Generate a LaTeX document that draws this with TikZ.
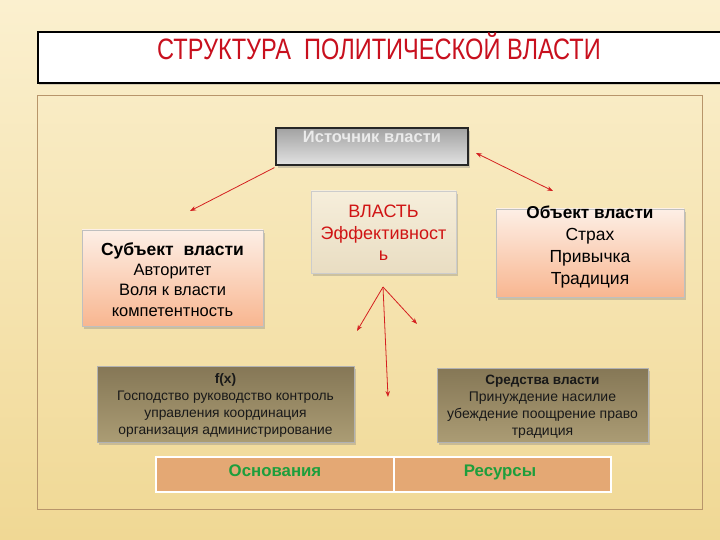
\documentclass[tikz,border=0pt]{standalone}
\usepackage{fontspec}
\setmainfont{Liberation Sans}
\newfontfamily\titlefont[FakeStretch=0.8]{Liberation Sans}
\usetikzlibrary{shadows,arrows.meta}
\definecolor{bgTop}{HTML}{FBF0CF}
\definecolor{bgBot}{HTML}{F0D894}
\definecolor{frameC}{HTML}{B8956A}
\definecolor{titleRed}{HTML}{C8101E}
\definecolor{srcTop}{HTML}{A2A2A2}
\definecolor{srcBot}{HTML}{E2E2E2}
\definecolor{powTop}{HTML}{F6EEDB}
\definecolor{powBot}{HTML}{E9DDC2}
\definecolor{peachTop}{HTML}{FDEFE6}
\definecolor{peachBot}{HTML}{F8B690}
\definecolor{oliveTop}{HTML}{857756}
\definecolor{oliveBot}{HTML}{AB9C74}
\definecolor{tabFill}{HTML}{E4A874}
\definecolor{greenT}{HTML}{1E9E3C}
\definecolor{arrowRed}{HTML}{D42020}
\definecolor{powRed}{HTML}{D01414}
\begin{document}
\begin{tikzpicture}[x=1pt,y=-1pt,
  bx/.style={rectangle, inner sep=0pt, drop shadow={shadow xshift=2pt, shadow yshift=-3pt, opacity=0.35}},
  srcbox/.style={bx, draw=black!85, line width=1.2pt, top color=srcTop, bottom color=srcBot},
  powbox/.style={bx, draw=black!20, line width=0.6pt, top color=powTop, bottom color=powBot},
  peachbox/.style={bx, draw=black!25, line width=0.6pt, top color=peachTop, bottom color=peachBot},
  olivebox/.style={bx, draw=black!30, line width=0.6pt, top color=oliveTop, bottom color=oliveBot},
  txt/.style={align=center, inner sep=0pt},
  arr/.style={draw=arrowRed, line width=0.8pt, -{Stealth[length=6pt,width=4.5pt]}},
  darr/.style={draw=arrowRed, line width=0.8pt, {Stealth[length=6pt,width=4.5pt]}-{Stealth[length=6pt,width=4.5pt]}}
]
\useasboundingbox (0,0) rectangle (720,540);
\fill[top color=bgTop, bottom color=bgBot] (0,0) rectangle (720,540);

% title
\node[rectangle, draw=black, line width=2.4pt, fill=white, minimum width=686pt, minimum height=51pt, anchor=north west,
      drop shadow={shadow xshift=1pt, shadow yshift=-2pt, opacity=0.3}] (title) at (37,31) {};
\node[txt, text=titleRed, font=\titlefont\fontsize{29.5}{32}\selectfont] (titleT) at (379,46) {СТРУКТУРА\ \ ПОЛИТИЧЕСКОЙ ВЛАСТИ};

% inner frame
\node[rectangle, draw=frameC, line width=0.8pt, minimum width=665pt, minimum height=414pt, anchor=north west] (frame) at (37,95) {};

% source
\node[srcbox, minimum width=192pt, minimum height=37pt] (src) at (372,146.5) {};
\node[txt, text=white!92!black, font=\bfseries\fontsize{16.5}{18}\selectfont, anchor=base] (srcT) at (372,143) {Источник власти};

% power
\node[powbox, minimum width=145pt, minimum height=82pt] (pow) at (383.5,232) {};
\node[txt, text=powRed, font=\fontsize{18}{21.5}\selectfont] (powT) at (383.5,233) {ВЛАСТЬ\\Эффективност\\ь};

% subject
\node[peachbox, minimum width=181pt, minimum height=96pt] (subj) at (172.5,278) {};
\node[txt, font=\fontsize{16.5}{20.2}\selectfont] (subjT) at (172.5,279.5) {{\bfseries\fontsize{17.5}{20.2}\selectfont Субъект\ \ власти}\\Авторитет\\Воля к власти\\компетентность};

% object
\node[peachbox, minimum width=188pt, minimum height=88pt] (obj) at (590,253) {};
\node[txt, font=\fontsize{17.5}{21.7}\selectfont] (objT) at (590,247) {{\bfseries\fontsize{17.2}{21.7}\selectfont Объект власти}\\Страх\\Привычка\\Традиция};

% functions
\node[olivebox, minimum width=257pt, minimum height=76pt] (fx) at (225.5,404) {};
\node[txt, text=black!90, font=\fontsize{13.8}{17}\selectfont] (fxT) at (225.5,405.5) {{\bfseries f(x)}\\Господство руководство контроль\\управления координация\\организация администрирование};

% means
\node[olivebox, minimum width=211pt, minimum height=74pt] (mean) at (542.5,405) {};
\node[txt, text=black!90, font=\fontsize{14}{17}\selectfont] (meanT) at (542.5,406.5) {{\bfseries\fontsize{13.5}{17}\selectfont Средства власти}\\Принуждение насилие\\убеждение поощрение право\\традиция};

% table
\node[rectangle, draw=white, line width=1.5pt, fill=tabFill, minimum width=238pt, minimum height=35pt, anchor=north west] (osn) at (155,456) {};
\node[rectangle, draw=white, line width=1.5pt, fill=tabFill, minimum width=217pt, minimum height=35pt, anchor=north west] (res) at (393,456) {};
\node[txt, text=greenT, font=\bfseries\fontsize{16.8}{18}\selectfont, anchor=base] (osnT) at (275,476) {Основания};
\node[txt, text=greenT, font=\bfseries\fontsize{16.8}{18}\selectfont, anchor=base] (resT) at (500,476) {Ресурсы};

% arrows
\coordinate (a1) at (190,211);
\coordinate (a2s) at (476,153);
\coordinate (a2e) at (553,191);
\coordinate (hub) at (383,287);
\coordinate (e1) at (357,331);
\coordinate (e2) at (417,324);
\coordinate (e3) at (388,397);
\draw[arr] ([xshift=-1pt,yshift=-2pt]src.south west) -- (a1);
\draw[darr] (a2s) -- (a2e);
\draw[arr] (hub) -- (e1);
\draw[arr] (hub) -- (e2);
\draw[arr] (hub) -- (e3);
\end{tikzpicture}
\end{document}
